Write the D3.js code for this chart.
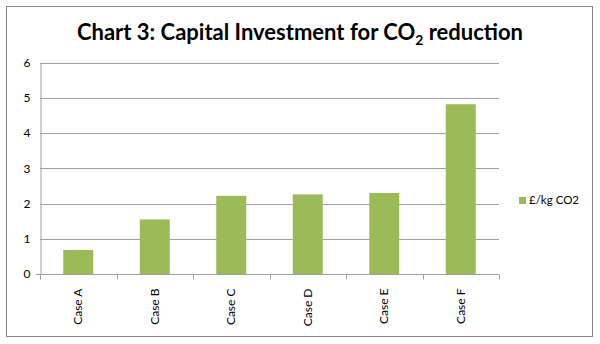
<!DOCTYPE html>
<html><head><meta charset="utf-8">
<script src="https://cdn.jsdelivr.net/npm/d3@7"></script>
<style>
html,body{margin:0;padding:0;background:#fff;}
svg{display:block;font-family:Lato,"Open Sans",sans-serif;}
</style></head>
<body>
<svg id="c" width="600" height="344"></svg>
<script>
const categories = ["Case A","Case B","Case C","Case D","Case E","Case F"];
const values = [0.68, 1.55, 2.22, 2.26, 2.30, 4.82];
const yTicks = [0,1,2,3,4,5,6];
const seriesName = "£/kg CO2";

const svg = d3.select("#c");
svg.append("rect").attr("x",6.5).attr("y",6.5).attr("width",586).attr("height",330)
  .attr("fill","#fff").attr("stroke","#868686").attr("stroke-width",1);

const pLeft=40, pRight=499, pTop=62.7, pBottom=274;
const x = d3.scaleBand().domain(categories).range([pLeft,pRight]).paddingInner(0.608).paddingOuter(0.304);
const y = d3.scaleLinear().domain([0,6]).range([pBottom,pTop]);

// gridlines
svg.append("g").selectAll("line").data(yTicks.filter(d=>d>0)).join("line")
  .attr("x1",pLeft).attr("x2",pRight).attr("y1",d=>Math.round(y(d))+0.5).attr("y2",d=>Math.round(y(d))+0.5)
  .attr("stroke","#a0a0a0").attr("stroke-width",1);

// bars
svg.append("g").selectAll("rect").data(values).join("rect")
  .attr("x",(d,i)=>x(categories[i])).attr("width",x.bandwidth())
  .attr("y",d=>y(d)).attr("height",d=>y(0)-y(d))
  .attr("fill","#9bbb59");

// y axis
const ya = svg.append("g").attr("transform",`translate(${pLeft+0.5},0)`)
  .call(d3.axisLeft(y).tickValues(yTicks).tickSize(0).tickPadding(10).tickFormat(d3.format("d")));
ya.select(".domain").attr("stroke","#a0a0a0");
ya.selectAll("text").attr("font-size",12).attr("fill","#000").attr("font-family","Lato");

// x axis
const xa = svg.append("g").attr("transform",`translate(0,${Math.round(pBottom)+0.5})`);
xa.append("line").attr("x1",pLeft-4).attr("x2",pRight).attr("stroke","#a0a0a0");
const step = x.step();
xa.selectAll("line.tk").data(d3.range(categories.length+1)).join("line").attr("class","tk")
  .attr("x1",i=>Math.round(pLeft+i*step)+0.5).attr("x2",i=>Math.round(pLeft+i*step)+0.5)
  .attr("y1",0).attr("y2",5).attr("stroke","#a0a0a0");
xa.selectAll("text").data(categories).join("text")
  .attr("transform",d=>`translate(${x(d)+x.bandwidth()/2+4},14) rotate(-90)`)
  .attr("text-anchor","end").attr("font-size",12).attr("fill","#000").text(d=>d);

// title
const t = svg.append("text").attr("x",300).attr("y",40).attr("text-anchor","middle")
  .attr("font-size",22).attr("font-weight","bold").attr("fill","#000");
t.append("tspan").text("Chart 3: Capital Investment for CO");
t.append("tspan").attr("font-size",14).attr("dy",5).text("2");
t.append("tspan").attr("dy",-5).text(" reduction");

// legend
const lg = svg.append("g").attr("transform","translate(519,197)");
lg.append("rect").attr("width",7).attr("height",7).attr("fill","#9bbb59");
lg.append("text").attr("x",10).attr("y",7).attr("font-size",11.5).attr("fill","#000").text(seriesName);
</script>
</body></html>
